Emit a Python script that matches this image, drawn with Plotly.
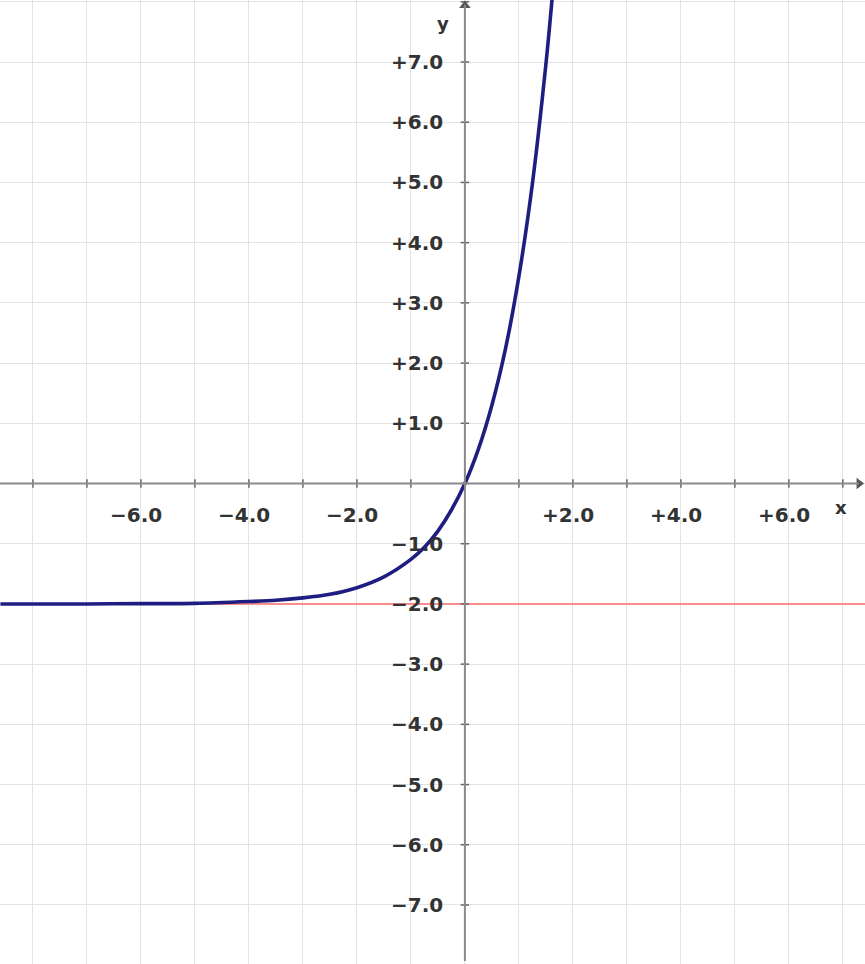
import plotly.graph_objects as go

# Curve values
curve_x = [-8.6, -7.0, -6.0, -5.0, -4.0, -3.5, -3.0, -2.5, -2.0, -1.5, -1.0, -0.75,
           -0.5, -0.25, 0.0, 0.25, 0.5, 0.75, 1.0, 1.25, 1.5, 1.62]
curve_y = [-2.0, -2.0, -1.995, -1.99, -1.96, -1.94, -1.9, -1.84, -1.73, -1.55, -1.26, -1.06,
           -0.79, -0.44, 0.0, 0.57, 1.30, 2.23, 3.44, 4.98, 6.96, 8.1]
asymptote_y = -2.0

x_tick_values = [-6, -4, -2, 2, 4, 6]
x_tick_labels = ["−6.0", "−4.0", "−2.0", "+2.0", "+4.0", "+6.0"]
y_tick_values = [7, 6, 5, 4, 3, 2, 1, -1, -2, -3, -4, -5, -6, -7]
y_tick_labels = ["+7.0", "+6.0", "+5.0", "+4.0", "+3.0", "+2.0", "+1.0",
                 "−1.0", "−2.0", "−3.0", "−4.0", "−5.0", "−6.0", "−7.0"]
x_marks = list(range(-8, 8))
y_marks = list(range(-7, 9))

X_RANGE = [-8.61, 7.41]
Y_RANGE = [-7.98, 8.03]

AXIS_COLOR = "#8a8a8a"
TEXT_COLOR = "#333333"
FONT = "DejaVu Sans"

fig = go.Figure()

# asymptote
fig.add_trace(go.Scatter(x=X_RANGE, y=[asymptote_y, asymptote_y], mode="lines",
                         line=dict(color="#ff6b6b", width=1.6), hoverinfo="skip"))

# axes
fig.add_shape(type="line", x0=X_RANGE[0], x1=7.3, y0=0, y1=0,
              line=dict(color=AXIS_COLOR, width=2), layer="above")
fig.add_shape(type="line", x0=0, x1=0, y0=-7.93, y1=7.95,
              line=dict(color=AXIS_COLOR, width=2), layer="above")

# tick marks on axes
fig.add_trace(go.Scatter(x=x_marks, y=[0] * len(x_marks), mode="markers",
                         marker=dict(symbol="line-ns", size=6,
                                     line=dict(color="#666666", width=1.5)),
                         hoverinfo="skip"))
fig.add_trace(go.Scatter(x=[0] * len(y_marks), y=y_marks, mode="markers",
                         marker=dict(symbol="line-ew", size=6,
                                     line=dict(color="#666666", width=1.5)),
                         hoverinfo="skip"))

# arrow heads
fig.add_trace(go.Scatter(x=[7.3], y=[0], mode="markers",
                         marker=dict(symbol="triangle-right", size=10, color="#555555"),
                         hoverinfo="skip", cliponaxis=False))
fig.add_trace(go.Scatter(x=[0], y=[7.94], mode="markers",
                         marker=dict(symbol="triangle-up", size=10, color="#555555"),
                         hoverinfo="skip", cliponaxis=False))

# curve
fig.add_trace(go.Scatter(x=curve_x, y=curve_y, mode="lines",
                         line=dict(color="#1e1e82", width=3.6, shape="spline", smoothing=0.8),
                         hoverinfo="skip"))

annotations = []
for v, t in zip(x_tick_values, x_tick_labels):
    annotations.append(dict(x=v, y=0, text="<b>" + t + "</b>", showarrow=False,
                            xanchor="center", yanchor="middle", xshift=-5, yshift=-31,
                            font=dict(family=FONT, size=20, color=TEXT_COLOR)))
for v, t in zip(y_tick_values, y_tick_labels):
    annotations.append(dict(x=0, y=v, text="<b>" + t + "</b>", showarrow=False,
                            xanchor="right", yanchor="middle", xshift=-20,
                            font=dict(family=FONT, size=20, color=TEXT_COLOR)))
annotations.append(dict(x=0, y=0, text="<b>x</b>", showarrow=False, xanchor="center",
                        yanchor="middle", xshift=376, yshift=-24,
                        font=dict(family=FONT, size=18, color=TEXT_COLOR)))
annotations.append(dict(x=0, y=0, text="<b>y</b>", showarrow=False, xanchor="center",
                        yanchor="middle", xshift=-22, yshift=460,
                        font=dict(family=FONT, size=18, color=TEXT_COLOR)))

fig.update_layout(
    width=865, height=964,
    margin=dict(l=0, r=0, t=0, b=0),
    paper_bgcolor="white", plot_bgcolor="white",
    showlegend=False,
    annotations=annotations,
    xaxis=dict(range=X_RANGE, dtick=1, tick0=0, showgrid=True, gridcolor="#e3e3e3",
               gridwidth=1, zeroline=False, showticklabels=False, ticks="",
               fixedrange=True, showline=False),
    yaxis=dict(range=Y_RANGE, dtick=1, tick0=0, showgrid=True, gridcolor="#e3e3e3",
               gridwidth=1, zeroline=False, showticklabels=False, ticks="",
               fixedrange=True, showline=False),
)

fig.write_html("out.html", config={"displayModeBar": False},
               post_script="document.body.style.margin='0';document.body.style.overflow='hidden';")
